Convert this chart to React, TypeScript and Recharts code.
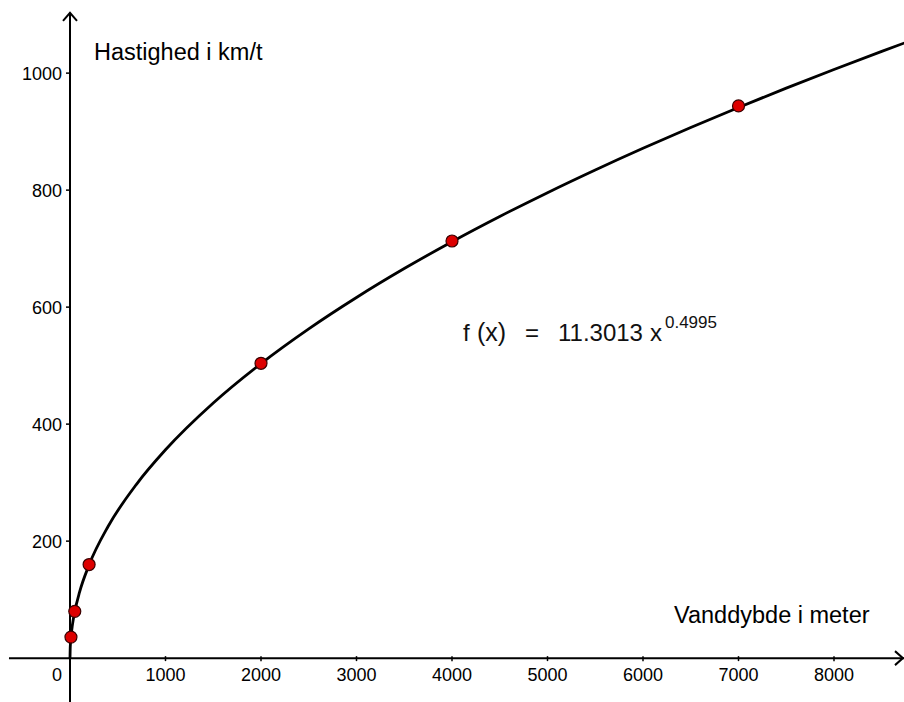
import React from 'react';
import { ComposedChart, Line, XAxis, YAxis, ReferenceLine, ReferenceDot } from 'recharts';

// Measured points (depth in m, speed in km/t)
const pointDepths = [10, 50, 200, 2000, 4000, 7000];
const pointSpeeds = [36, 80, 160, 504, 713, 944];

// Curve f(x) = 11.3013 x^0.4995
const curveDepths = [0, 2, 5, 10, 25, 50, 100, 200, 400, 700, 1000, 1500, 2000, 2500, 3000, 3500, 4000, 4500, 5000, 5500, 6000, 6500, 7000, 7500, 8000, 8500, 8750];
const curveSpeeds = [0, 16, 25.3, 35.7, 56.4, 79.8, 112.8, 159.4, 225.4, 298, 356.1, 436.1, 503.5, 562.9, 616.5, 665.9, 711.8, 754.9, 795.7, 834.5, 871.6, 907.2, 941.3, 974.4, 1006.3, 1037.2, 1052.3];

// Tick values
const xTicks = [0, 1000, 2000, 3000, 4000, 5000, 6000, 7000, 8000];
const yTicks = [200, 400, 600, 800, 1000];

// Axis extents (data units)
const xDomain: [number, number] = [-733, 8733];
const yDomain: [number, number] = [-75, 1125];
const xAxisStart = -639;
const yAxisTop = 1103;

// Text labels and their anchors (data units)
const yTitle = 'Hastighed i km/t';
const yTitleAt = [251, 1022];
const xTitle = 'Vanddybde i meter';
const xTitleAt = [6325, 60];
const formulaAt = [4115, 542];

const curve = curveDepths.map((x, i) => ({ x, y: curveSpeeds[i] }));
const points = pointDepths.map((x, i) => ({ x, y: pointSpeeds[i] }));

const FONT = '"Liberation Sans", Arial, sans-serif';

const XTick = (label: string) => (p: any) => (
  <g>
    <line x1={p.cx} x2={p.cx} y1={p.cy - 2} y2={p.cy + 3} stroke="#000" strokeWidth={1.5} />
    <text
      x={label === '0' ? p.cx - 13 : p.cx}
      y={p.cy + 23}
      textAnchor="middle"
      fontFamily={FONT}
      fontSize={18}
      fill="#000"
    >
      {label}
    </text>
  </g>
);

const YTick = (label: string) => (p: any) => (
  <g>
    <line x1={p.cx - 4} x2={p.cx} y1={p.cy} y2={p.cy} stroke="#000" strokeWidth={1.5} />
    <text x={p.cx - 8} y={p.cy + 7} textAnchor="end" fontFamily={FONT} fontSize={18} fill="#000">
      {label}
    </text>
  </g>
);

const TitleText = (label: string) => (p: any) => (
  <text x={p.cx} y={p.cy} fontFamily={FONT} fontSize={23.5} fill="#000">
    {label}
  </text>
);

const Formula = (p: any) => (
  <g fontFamily={FONT} fill="#111">
    <text x={p.cx} y={p.cy} fontSize={24}>f</text>
    <text x={p.cx + 14} y={p.cy} fontSize={25}>(x)</text>
    <text x={p.cx + 62} y={p.cy} fontSize={24}>=</text>
    <text x={p.cx + 95} y={p.cy} fontSize={24}>11.3013</text>
    <text x={p.cx + 187} y={p.cy} fontSize={24}>x</text>
    <text x={p.cx + 202} y={p.cy - 13} fontSize={17}>0.4995</text>
  </g>
);

const ArrowUp = (p: any) => (
  <path d={`M${p.cx - 7},${p.cy + 8} L${p.cx},${p.cy} L${p.cx + 7},${p.cy + 8}`} fill="none" stroke="#000" strokeWidth={2} />
);

const ArrowRight = (p: any) => (
  <path d={`M${p.cx - 9},${p.cy - 7} L${p.cx - 1},${p.cy} L${p.cx - 9},${p.cy + 7}`} fill="none" stroke="#000" strokeWidth={2} />
);

const RedDot = (p: any) => (
  <circle key={p.index} cx={p.cx} cy={p.cy} r={6} fill="#dd0000" stroke="#3a0000" strokeWidth={1.2} />
);

export default function App() {
  return (
    <div style={{ position: 'absolute', left: 0, top: 0, width: 904, height: 702, background: '#fff' }}>
      <ComposedChart width={904} height={702} margin={{ top: 0, right: 0, bottom: 0, left: 0 }}>
        <XAxis type="number" dataKey="x" domain={xDomain} allowDataOverflow hide />
        <YAxis type="number" dataKey="y" domain={yDomain} allowDataOverflow hide />

        <ReferenceLine
          segment={[{ x: xAxisStart, y: 0 }, { x: xDomain[1], y: 0 }]}
          stroke="#000"
          strokeWidth={2}
          ifOverflow="visible"
        />
        <ReferenceLine
          segment={[{ x: 0, y: yDomain[0] }, { x: 0, y: yAxisTop }]}
          stroke="#000"
          strokeWidth={2}
          ifOverflow="visible"
        />
        <ReferenceDot x={0} y={yAxisTop} r={0} ifOverflow="visible" shape={ArrowUp} />
        <ReferenceDot x={xDomain[1]} y={0} r={0} ifOverflow="visible" shape={ArrowRight} />

        {xTicks.map((t) => (
          <ReferenceDot key={'x' + t} x={t} y={0} r={0} ifOverflow="visible" shape={XTick(String(t))} />
        ))}
        {yTicks.map((t) => (
          <ReferenceDot key={'y' + t} x={0} y={t} r={0} ifOverflow="visible" shape={YTick(String(t))} />
        ))}

        <ReferenceDot x={yTitleAt[0]} y={yTitleAt[1]} r={0} ifOverflow="visible" shape={TitleText(yTitle)} />
        <ReferenceDot x={xTitleAt[0]} y={xTitleAt[1]} r={0} ifOverflow="visible" shape={TitleText(xTitle)} />
        <ReferenceDot x={formulaAt[0]} y={formulaAt[1]} r={0} ifOverflow="visible" shape={Formula} />

        <Line
          data={points}
          dataKey="y"
          stroke="none"
          dot={RedDot}
          activeDot={false}
          isAnimationActive={false}
        />
        <Line
          data={curve}
          dataKey="y"
          type="monotone"
          stroke="#000"
          strokeWidth={2.8}
          dot={false}
          activeDot={false}
          isAnimationActive={false}
        />
      </ComposedChart>
    </div>
  );
}
